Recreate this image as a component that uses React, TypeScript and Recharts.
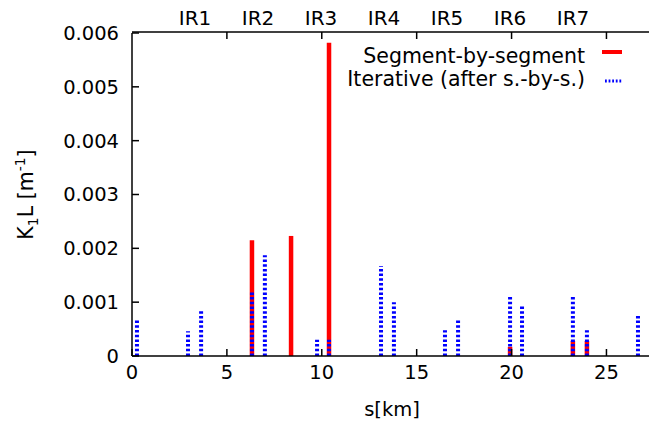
import React from "react";
import {
  ComposedChart,
  XAxis,
  YAxis,
  Bar,
  Legend,
  Label,
} from "recharts";

// positions along the ring [km]
const positions = [
  0.26, 2.95, 3.64, 6.32, 7.0, 8.38, 9.75, 10.38, 13.12, 13.8, 16.49, 17.18,
  19.92, 20.55, 23.23, 23.97, 26.66,
];
// K1L from segment-by-segment
const segValues = [
  null, null, null, 0.00215, null, 0.00223, null, 0.00582, null, null, null,
  null, 0.00017, null, 0.00028, 0.00028, null,
];
// K1L iterative (after s.-by-s.)
const iterValues = [
  0.00067, 0.00046, 0.00085, 0.00122, 0.00187, null, 0.0003, 0.0003, 0.00167,
  0.001, 0.00048, 0.00067, 0.00113, 0.00094, 0.00113, 0.00048, 0.00076,
];

const seriesNames = ["Segment-by-segment", "Iterative (after s.-by-s.)"];
const irLabels = ["IR1", "IR2", "IR3", "IR4", "IR5", "IR6", "IR7"];
const irPositions = [3.32, 6.64, 9.96, 13.28, 16.6, 19.92, 23.24];
const xTicks = [0, 5, 10, 15, 20, 25];
const yTicks = [0, 0.001, 0.002, 0.003, 0.004, 0.005, 0.006];

const font = "DejaVu Sans";
const axisStyle = { stroke: "#000", strokeWidth: 1.5 };
const tickStyle = { fill: "#000", fontSize: 19.5, fontFamily: font };

const data = positions.map((s, i) => ({
  s,
  seg: segValues[i] ?? undefined,
  iter: iterValues[i] ?? undefined,
}));

const SolidImpulse = (props: any) => {
  const { x, y, width, height } = props;
  if (!height || height <= 0) return null;
  const cx = x + width / 2;
  return (
    <line x1={cx} x2={cx} y1={y} y2={y + height} stroke="#ff0000" strokeWidth={4.5} />
  );
};

const DashedImpulse = (props: any) => {
  const { x, y, width, height } = props;
  if (!height || height <= 0) return null;
  const cx = x + width / 2;
  return (
    <line
      x1={cx}
      x2={cx}
      y1={y + height}
      y2={y}
      stroke="#0000ff"
      strokeWidth={4}
      strokeDasharray="2.5 2.2"
    />
  );
};

const LegendBox = () => (
  <svg width={649} height={64} style={{ display: "block" }}>
    {seriesNames.map((name, i) => {
      const yy = 30 + i * 23;
      return (
        <g key={name}>
          <text
            x={585}
            y={yy}
            textAnchor="end"
            fontFamily={font}
            fontSize={20.5}
            fill="#000"
          >
            {name}
          </text>
          {i === 0 ? (
            <line x1={602} x2={622} y1={yy - 11} y2={yy - 11} stroke="#ff0000" strokeWidth={4} />
          ) : (
            <line
              x1={605}
              x2={622}
              y1={yy - 5}
              y2={yy - 5}
              stroke="#0000ff"
              strokeWidth={3}
              strokeDasharray="1.8 1.8"
            />
          )}
        </g>
      );
    })}
  </svg>
);

const YLabel = (props: any) => {
  const vb = props.viewBox || {};
  const cy = (vb.y ?? 33) + (vb.height ?? 323) / 2;
  return (
    <text
      x={33}
      y={cy}
      transform={`rotate(-90, 33, ${cy})`}
      textAnchor="middle"
      fontFamily={font}
      fontSize={20.5}
      fill="#000"
    >
      K
      <tspan dy={5} fontSize={14}>1</tspan>
      <tspan dy={-5}>L [m</tspan>
      <tspan dy={-8} fontSize={14}>-1</tspan>
      <tspan dy={8}>]</tspan>
    </text>
  );
};

export default function App() {
  return (
    <div style={{ position: "absolute", left: 0, top: 0, background: "#fff" }}>
      <ComposedChart
        width={649}
        height={429}
        data={data}
        margin={{ top: 31, right: -4, bottom: 72, left: 131 }}
      >
        <XAxis
          xAxisId="bottom"
          dataKey="s"
          type="number"
          domain={[0, 27.4]}
          ticks={xTicks}
          interval={0}
          height={1}
          tickSize={-7}
          tickMargin={16}
          axisLine={axisStyle}
          tickLine={axisStyle}
          tick={tickStyle}
        >
          <Label
            value="s[km]"
            position="bottom"
            offset={45}
            style={{ fill: "#000", fontSize: 19.5, fontFamily: font }}
          />
        </XAxis>
        <XAxis
          xAxisId="top5"
          dataKey="s"
          type="number"
          orientation="top"
          domain={[0, 27.4]}
          ticks={xTicks.slice(1)}
          interval={0}
          height={1}
          tickSize={-7}
          tickFormatter={() => ""}
          axisLine={axisStyle}
          tickLine={axisStyle}
        />
        <XAxis
          xAxisId="ir"
          dataKey="s"
          type="number"
          orientation="top"
          domain={[0, 27.4]}
          ticks={irPositions}
          interval={0}
          height={1}
          tickSize={0}
          tickMargin={8}
          tickFormatter={(_v: number, i: number) => irLabels[i]}
          axisLine={false}
          tickLine={false}
          tick={{ ...tickStyle, fontSize: 20 }}
        />
        <YAxis
          yAxisId="left"
          type="number"
          domain={[0, 0.006]}
          ticks={yTicks}
          interval={0}
          width={1}
          tickSize={-7}
          tickMargin={20}
          tickFormatter={(v: number) => (v === 0 ? "0" : v.toFixed(3))}
          axisLine={axisStyle}
          tickLine={axisStyle}
          tick={tickStyle}
        >
          <Label content={<YLabel />} />
        </YAxis>
        <YAxis
          yAxisId="right"
          orientation="right"
          type="number"
          domain={[0, 0.006]}
          ticks={yTicks}
          interval={0}
          width={1}
          tickSize={-7}
          tickFormatter={() => ""}
          axisLine={axisStyle}
          tickLine={axisStyle}
        />
        <Bar
          name={seriesNames[0]}
          dataKey="seg"
          xAxisId="bottom"
          yAxisId="left"
          barSize={4}
          fill="#ff0000"
          shape={<SolidImpulse />}
          isAnimationActive={false}
        />
        <Bar
          name={seriesNames[1]}
          dataKey="iter"
          xAxisId="ir"
          yAxisId="left"
          barSize={4}
          fill="#0000ff"
          shape={<DashedImpulse />}
          isAnimationActive={false}
        />
        <Legend
          layout="horizontal"
          align="center"
          verticalAlign="middle"
          content={<LegendBox />}
          wrapperStyle={{ position: "absolute", left: 0, top: 33, width: 649, height: 64 }}
        />
      </ComposedChart>
    </div>
  );
}
